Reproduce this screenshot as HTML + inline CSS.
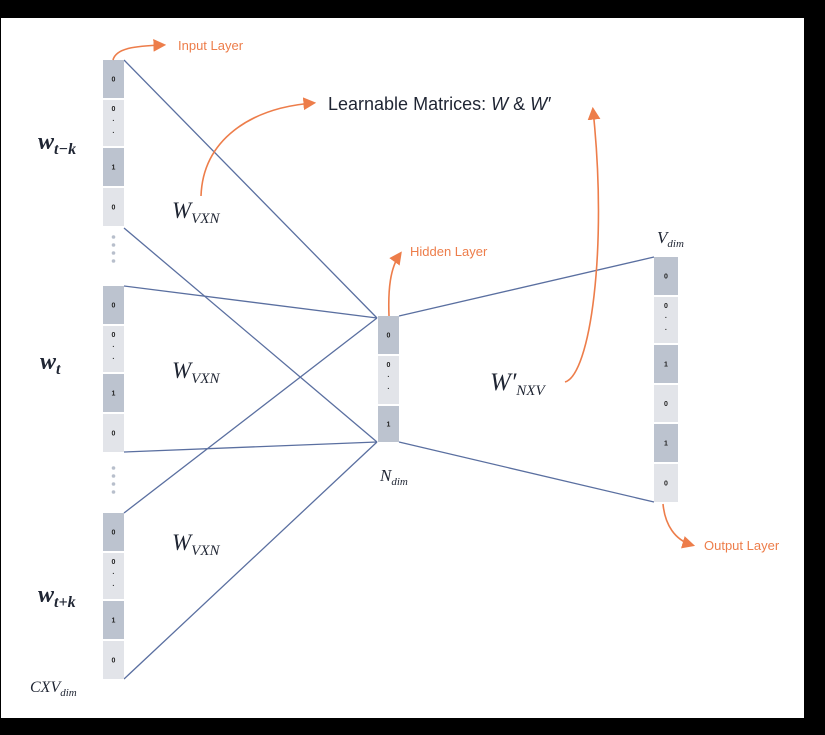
<!DOCTYPE html>
<html><head><meta charset="utf-8"><style>
html,body{margin:0;padding:0;background:#000;}
#wrap{position:relative;width:825px;height:735px;background:#000;overflow:hidden;}
svg{position:absolute;left:0;top:0;}
.m{font-family:"Liberation Serif",serif;font-style:italic;fill:#1f2533;}
.o{font-family:"Liberation Sans",sans-serif;fill:#ed7d4a;font-size:13px;}
.c{font-family:"Liberation Sans",sans-serif;font-size:7px;font-weight:bold;fill:#222;text-anchor:middle;}
</style></head><body>
<div id="wrap">
<svg id="svg" width="825" height="735">
<defs><marker id="ar" markerWidth="8" markerHeight="8" refX="6" refY="4" orient="auto"><path d="M0,0 L8,4 L0,8 Z" fill="#ed7d4a"/></marker></defs>
<rect x="1" y="18" width="803" height="700" fill="#fff"/>
<g id="lines"></g>
<g id="cells"></g>
<g fill="none" stroke="#ed7d4a" stroke-width="1.6">
<path d="M113,60 C116,48 135,46 163,45" marker-end="url(#ar)"/>
<path d="M201,196 C203,140 250,108 313,103" marker-end="url(#ar)"/>
<path d="M565,382 C590,375 608,250 593,110" marker-end="url(#ar)"/>
<path d="M389,316 C388,290 390,268 400,254" marker-end="url(#ar)"/>
<path d="M663,504 C665,525 675,540 692,545" marker-end="url(#ar)"/>
</g>
<text class="o" x="178" y="50">Input Layer</text>
<text class="o" x="410" y="256">Hidden Layer</text>
<text class="o" x="704" y="550">Output Layer</text>
<text x="328" y="110" font-family="Liberation Sans,sans-serif" font-size="18" fill="#1f2533">Learnable Matrices: <tspan font-style="italic">W</tspan> &amp; <tspan font-style="italic">W′</tspan></text>
<text class="m" x="38" y="149" font-size="24" font-weight="bold">w<tspan font-size="16" dy="5">t−k</tspan></text>
<text class="m" x="40" y="369" font-size="24" font-weight="bold">w<tspan font-size="16" dy="5">t</tspan></text>
<text class="m" x="38" y="602" font-size="24" font-weight="bold">w<tspan font-size="16" dy="5">t+k</tspan></text>
<text class="m" x="172" y="218" font-size="23">W<tspan font-size="15" dy="5">VXN</tspan></text>
<text class="m" x="172" y="378" font-size="23">W<tspan font-size="15" dy="5">VXN</tspan></text>
<text class="m" x="172" y="550" font-size="23">W<tspan font-size="15" dy="5">VXN</tspan></text>
<text class="m" x="490" y="390" font-size="25">W′<tspan font-size="15" dy="5">NXV</tspan></text>
<text class="m" x="380" y="481" font-size="17">N<tspan font-size="11" dy="4">dim</tspan></text>
<text class="m" x="657" y="243" font-size="17">V<tspan font-size="11" dy="4">dim</tspan></text>
<text class="m" x="30" y="692" font-size="16">CXV<tspan font-size="11" dy="4">dim</tspan></text>
</svg></div>
<script>
// column cells: [x, y, w, h, label, dark]
const colX = [103, 378, 654];
const colW = [21, 21, 24];
const inputTops = [60, 286, 513];
const groupCells = [[0,38,"0",1],[40,46,"0..",0],[88,38,"1",1],[128,38,"0",0]];
const hiddenCells = [[316,38,"0",1],[356,48,"0..",0],[406,36,"1",1]];
const outputCells = [[257,38,"0",1],[297,46,"0..",0],[345,38,"1",1],[385,37,"0",0],[424,38,"1",1],[464,38,"0",0]];
const dotsY = [[237,245,253,261],[468,476,484,492]];
const links = [[124,60,377,318],[124,228,377,442],[124,286,377,318],[124,452,377,442],[124,513,377,318],[124,679,377,442],[399,316,654,257],[399,442,654,502]];
const NS="http://www.w3.org/2000/svg";
const cg=document.getElementById('cells'), lg=document.getElementById('lines');
function cell(x,y,w,h,lab,dark,name){
  const r=document.createElementNS(NS,'rect');
  r.setAttribute('x',x);r.setAttribute('y',y);r.setAttribute('width',w);r.setAttribute('height',h);
  r.setAttribute('fill',dark?'#bcc3cf':'#e2e4e9');
  
  
  cg.appendChild(r);
  const cx=x+w/2;
  if(lab==="0.."){
    [["0",y+11],["·",y+23],["·",y+35]].forEach(p=>{const t=document.createElementNS(NS,'text');t.setAttribute('class','c');t.setAttribute('x',cx);t.setAttribute('y',p[1]);t.textContent=p[0];cg.appendChild(t);});
  } else {
    const t=document.createElementNS(NS,'text');t.setAttribute('class','c');t.setAttribute('x',cx);t.setAttribute('y',y+h/2+2.5);t.textContent=lab;
    
    
    cg.appendChild(t);
  }
}
inputTops.forEach((top,g)=>groupCells.forEach((c,i)=>cell(colX[0],top+c[0],colW[0],c[1],c[2],c[3],'input-cell')));
hiddenCells.forEach(c=>cell(colX[1],c[0],colW[1],c[1],c[2],c[3],'hidden-cell'));
outputCells.forEach(c=>cell(colX[2],c[0],colW[2],c[1],c[2],c[3],'output-cell'));
dotsY.forEach(ys=>ys.forEach(y=>{const d=document.createElementNS(NS,'circle');d.setAttribute('cx',113.5);d.setAttribute('cy',y);d.setAttribute('r',1.8);d.setAttribute('fill','#b8bfcc');


cg.appendChild(d);}));
links.forEach(l=>{const p=document.createElementNS(NS,'line');p.setAttribute('x1',l[0]);p.setAttribute('y1',l[1]);p.setAttribute('x2',l[2]);p.setAttribute('y2',l[3]);p.setAttribute('stroke','#5a6fa0');p.setAttribute('stroke-width','1.3');


lg.appendChild(p);});
</script>
</body></html>
